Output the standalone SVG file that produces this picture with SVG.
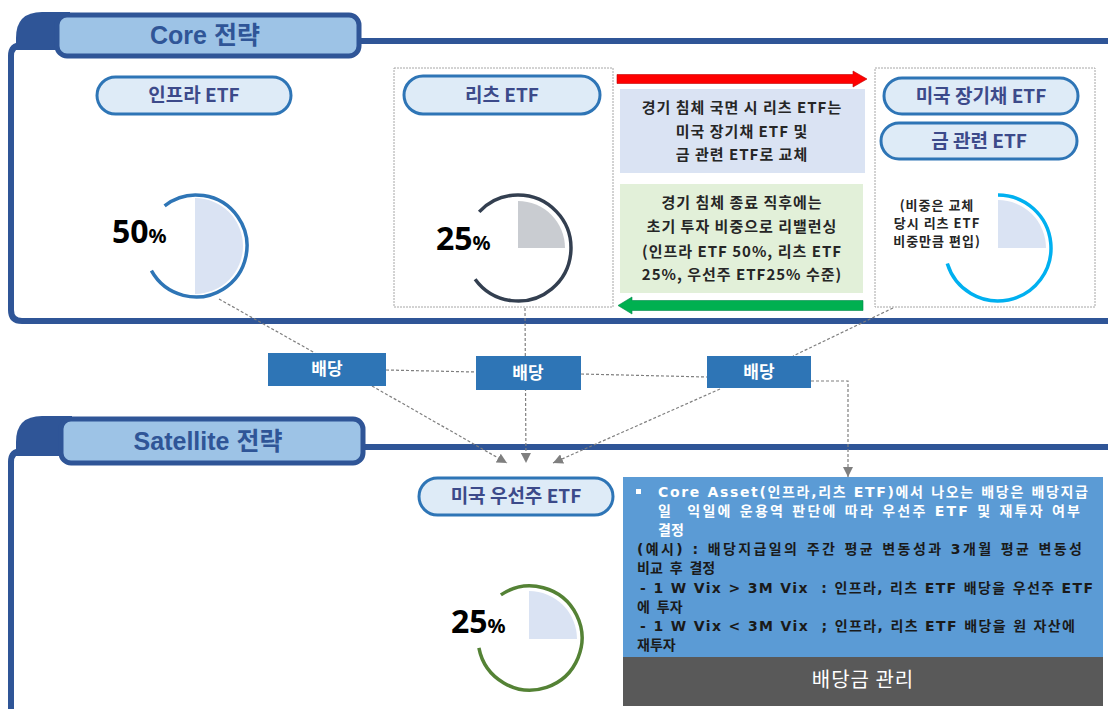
<svg xmlns="http://www.w3.org/2000/svg" width="1108" height="709" viewBox="0 0 1108 709">
<defs>
<style>
.frame{fill:none;stroke:#2F5597;stroke-width:6}
.ear{fill:#2F5597}
.tab{fill:#9DC3E6;stroke:#2F5597;stroke-width:5}
.title{font-family:"Liberation Sans","Noto Sans CJK KR",sans-serif;font-weight:bold;font-size:25px;fill:#2F5597;text-anchor:middle}
.pill{fill:#DEEBF7;stroke:#2E75B6;stroke-width:3}
.pt{font-family:"Noto Sans CJK KR",sans-serif;font-weight:bold;font-size:19px;fill:#3C4A8A;text-anchor:middle}
.dot{fill:#fff;stroke:#A6A6A6;stroke-width:1;stroke-dasharray:2 1}
.pie{fill:#DAE3F3}
.ring{fill:none;stroke-width:3.5}
.big{font-family:"Noto Sans","Noto Sans CJK KR",sans-serif;font-weight:bold;font-size:32px;fill:#000}
.pct{font-size:20px}
.kt{font-family:"Noto Sans CJK KR",sans-serif;font-weight:bold;font-size:15px;fill:#262626;text-anchor:middle;letter-spacing:1px}
.ks{font-size:13px}
.div{fill:#2E75B6}
.dt{font-family:"Noto Sans CJK KR",sans-serif;font-weight:bold;font-size:17px;fill:#fff;text-anchor:middle}
.con{fill:none;stroke:#7F7F7F;stroke-width:1.2;stroke-dasharray:3 2}
.bt{font-family:"DejaVu Sans","Noto Sans CJK KR",sans-serif;font-weight:bold;font-size:14px}
.w{fill:#fff}
.d{fill:#1A1A1A}
</style>
<marker id="ah" viewBox="0 0 10 10" refX="10" refY="5" markerWidth="10" markerHeight="10" markerUnits="userSpaceOnUse" orient="auto"><path d="M0,0 L10,5 L0,10 z" fill="#7F7F7F"/></marker>
</defs>
<rect width="1108" height="709" fill="#fff"/>

<g id="core-section">
<path class="frame" d="M1108 41 L340 41"/>
<path class="frame" d="M22 45 Q11 45 11 56 L11 310 Q11 321 22 321 L1108 321"/>
<path class="ear" d="M16 50 L16 38 Q16 12 42 12 L70 12 L70 50 Z"/>
<rect class="tab" x="57" y="15" width="302" height="41" rx="10"/>
<text class="title" x="205" y="44">Core 전략</text>
</g>

<g id="satellite-section">
<path class="frame" d="M1108 447 L345 447"/>
<path class="frame" d="M22 451 Q11 451 11 462 L11 709"/>
<path class="ear" d="M16 456 L16 442 Q16 416 42 416 L72 416 L72 456 Z"/>
<rect class="tab" x="61" y="419" width="302" height="44" rx="10"/>
<text class="title" x="208" y="450">Satellite 전략</text>
</g>

<g id="connectors">
<path class="con" d="M219 299 L315 353"/>
<path class="con" d="M372 386 L507 463" marker-end="url(#ah)"/>
<path class="con" d="M386 370 L476 372"/>
<path class="con" d="M525 308 L526 463" marker-end="url(#ah)"/>
<path class="con" d="M581 374 L707 377"/>
<path class="con" d="M893 308 L793 356"/>
<path class="con" d="M720 389 L553 463" marker-end="url(#ah)"/>
<path class="con" d="M811 381 L848 381 L848 477" marker-end="url(#ah)"/>
</g>

<g id="infra">
<rect class="pill" x="97" y="77" width="194" height="37" rx="18.5"/>
<text class="pt" x="194" y="102">인프라 ETF</text>
<path class="pie" d="M195 198 A48 48 0 0 1 195 294 Z"/>
<path class="ring" stroke="#2E75B6" d="M164.6 205.8 A51 51 0 1 1 151.4 270.7"/>
<text class="big" x="112" y="243">50<tspan class="pct">%</tspan></text>
</g>

<g id="reits">
<rect class="dot" x="394" y="68" width="219" height="239"/>
<rect class="pill" x="404" y="76" width="196" height="38" rx="19"/>
<text class="pt" x="502" y="102">리츠 ETF</text>
<path style="fill:#C9CCD1" d="M518 248 L518 201 A47 47 0 0 1 565 248 Z"/>
<path class="ring" stroke="#333F50" d="M479.2 211.9 A53 53 0 1 1 475.1 279.2"/>
<text class="big" x="436" y="250">25<tspan class="pct">%</tspan></text>
</g>

<g id="switch-arrow">
<path d="M617 74.5 H853 V71 L867 79 L853 87 V83.5 H617 Z" fill="#FF0000" stroke="#C00000" stroke-width="0.6"/>
</g>

<g id="switch-note">
<rect x="620" y="89" width="245" height="84" fill="#DAE3F3"/>
<text class="kt" x="742" y="113">경기 침체 국면 시 리츠 ETF는</text>
<text class="kt" x="742" y="137">미국 장기채 ETF 및</text>
<text class="kt" x="742" y="160">금 관련 ETF로 교체</text>
</g>

<g id="rebalance-note">
<rect x="620" y="184" width="243" height="109" fill="#E2F0D9"/>
<text class="kt" x="742" y="208">경기 침체 종료 직후에는</text>
<text class="kt" x="742" y="232">초기 투자 비중으로 리밸런싱</text>
<text class="kt" x="742" y="257">(인프라 ETF 50%, 리츠 ETF</text>
<text class="kt" x="742" y="280">25%, 우선주 ETF25% 수준)</text>
</g>

<g id="rebalance-arrow">
<path d="M863 300.5 H632 V297 L618 305.5 L632 314 V310.5 H863 Z" fill="#00B050" stroke="#00884A" stroke-width="0.6"/>
</g>

<g id="bonds-gold">
<rect class="dot" x="875" y="68" width="220" height="239"/>
<rect class="pill" x="884" y="78" width="194" height="36" rx="18"/>
<text class="pt" x="981" y="103">미국 장기채 ETF</text>
<rect class="pill" x="881" y="123" width="196" height="36" rx="18"/>
<text class="pt" x="979" y="148">금 관련 ETF</text>
<path class="pie" d="M998 248 L998 200 A48 48 0 0 1 1046 248 Z"/>
<path class="ring" stroke="#00B0F0" stroke-width="4" d="M998 195 A53 53 0 1 1 947.3 263.5"/>
<text class="kt ks" x="937" y="210">(비중은 교체</text>
<text class="kt ks" x="937" y="228">당시 리츠 ETF</text>
<text class="kt ks" x="937" y="246">비중만큼 편입)</text>
</g>

<g id="dividend-1">
<rect class="div" x="268" y="353" width="118" height="33"/>
<text class="dt" x="327" y="375">배당</text>
</g>
<g id="dividend-2">
<rect class="div" x="476" y="356" width="105" height="34"/>
<text class="dt" x="528" y="379">배당</text>
</g>
<g id="dividend-3">
<rect class="div" x="707" y="356" width="104" height="32"/>
<text class="dt" x="759" y="378">배당</text>
</g>

<g id="preferred">
<rect class="pill" x="419" y="478" width="194" height="37" rx="18.5"/>
<text class="pt" x="516" y="503">미국 우선주 ETF</text>
<path class="pie" d="M529 639 L529 591 A48 48 0 0 1 577 639 Z"/>
<path class="ring" stroke="#548235" d="M500.9 594.9 A52 52 0 1 1 478.9 647.9"/>
<text class="big" x="451" y="633">25<tspan class="pct">%</tspan></text>
</g>

<g id="dividend-policy">
<rect x="623" y="477" width="480" height="180" fill="#5B9BD5"/>
<rect x="636" y="489" width="5" height="5" fill="#fff"/>
<text class="bt w" x="658" y="497" textLength="430" lengthAdjust="spacing">Core Asset(인프라,리츠 ETF)에서 나오는 배당은 배당지급</text>
<text class="bt w" x="658" y="516" textLength="422" lengthAdjust="spacing" xml:space="preserve">일  익일에 운용역 판단에 따라 우선주 ETF 및 재투자 여부</text>
<text class="bt w" x="658" y="535">결정</text>
<text class="bt d" x="637" y="554" textLength="445" lengthAdjust="spacing">(예시) : 배당지급일의 주간 평균 변동성과 3개월 평균 변동성</text>
<text class="bt d" x="637" y="573" style="word-spacing:2px">비교 후 결정</text>
<text class="bt d" x="640" y="593" textLength="453" lengthAdjust="spacing" xml:space="preserve">- 1 W Vix &gt; 3M Vix  : 인프라, 리츠 ETF 배당을 우선주 ETF</text>
<text class="bt d" x="637" y="612" style="word-spacing:2px">에 투자</text>
<text class="bt d" x="640" y="631" textLength="435" lengthAdjust="spacing" xml:space="preserve">- 1 W Vix &lt; 3M Vix  ; 인프라, 리츠 ETF 배당을 원 자산에</text>
<text class="bt d" x="637" y="650">재투자</text>
<rect x="623" y="657" width="480" height="49" fill="#595959"/>
<text x="863" y="687" style="font-family:'Noto Sans CJK KR',sans-serif;font-size:20px;fill:#fff;text-anchor:middle;letter-spacing:1px">배당금 관리</text>
</g>
</svg>
